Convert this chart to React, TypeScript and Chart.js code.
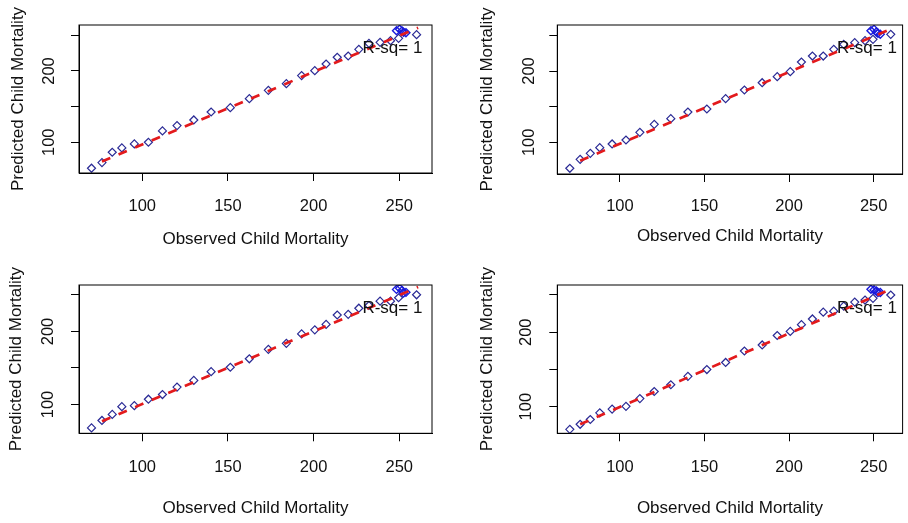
import React, { useEffect, useRef } from 'react';
import { Chart, registerables } from 'chart.js';

Chart.register(...registerables);
Chart.defaults.font.family = '"Liberation Sans", Arial, Helvetica, sans-serif';
Chart.defaults.color = '#000';

// ---------------- data ----------------
const OBSERVED = [70.4, 76.5, 82.5, 88.1, 95.4, 103.6, 111.8, 120.3, 130.1, 140.2, 151.4, 162.5, 173.6, 184.1, 193.0, 200.7, 207.3, 213.8, 220.2, 226.4, 232.3, 238.8, 244.9, 249.6, 260.1];
const OBSERVED_CLUSTER = [248.4, 250.2, 251.6, 252.5, 253.9];

const PRED_1 = [63.6, 71.5, 86.0, 92.1, 97.7, 100.0, 115.9, 123.4, 131.3, 142.5, 148.6, 161.2, 172.9, 182.2, 193.5, 200.5, 209.8, 219.2, 221.0, 230.4, 238.8, 240.2, 242.5, 245.8, 250.9];
const PRED_1_CLUSTER = [256.5, 258.4, 256.0, 254.2, 253.7];
const PRED_2 = [63.6, 76.2, 84.6, 92.5, 97.7, 103.3, 114.0, 125.2, 133.2, 142.5, 146.7, 161.2, 173.4, 183.6, 192.1, 199.1, 212.6, 221.0, 221.0, 230.4, 237.4, 239.7, 242.5, 244.4, 251.4];
const PRED_2_CLUSTER = [256.5, 258.4, 254.7, 252.8, 251.4];
const PRED_3 = [67.9, 78.1, 86.4, 97.0, 98.4, 107.2, 113.6, 123.8, 133.0, 145.0, 151.0, 162.6, 175.5, 183.8, 196.7, 202.3, 209.7, 222.6, 223.5, 231.9, 235.6, 241.6, 241.6, 246.2, 250.3];
const PRED_3_CLUSTER = [257.7, 259.1, 256.3, 252.6, 253.6];
const PRED_4 = [69.6, 76.4, 82.8, 91.8, 96.8, 100.5, 110.9, 120.4, 129.5, 140.8, 149.9, 159.4, 174.8, 182.9, 195.6, 201.1, 210.1, 217.8, 226.9, 228.3, 235.1, 240.5, 243.2, 245.5, 250.0];
const PRED_4_CLUSTER = [257.7, 256.8, 255.4, 253.2, 253.2];

const FIT_X = [76.5, 261];
const FIT_1 = [72.9, 260.7];
const FIT_2 = [74.3, 259.8];
const FIT_3 = [77.1, 260.9];
const FIT_4 = [76.4, 258.6];

const X_TICKS = [100, 150, 200, 250];
const Y_TICKS = [100, 150, 200, 250];
const Y_TICK_LABELS = ['100', '', '200', ''];
const X_TITLE = 'Observed Child Mortality';
const Y_TITLE = 'Predicted Child Mortality';
const RSQ_TEXT = 'R-sq= 1';
const RSQ_AT = [246, 232];

const SERIES = [
  { pred: PRED_1, cluster: PRED_1_CLUSTER, fit: FIT_1 },
  { pred: PRED_2, cluster: PRED_2_CLUSTER, fit: FIT_2 },
  { pred: PRED_3, cluster: PRED_3_CLUSTER, fit: FIT_3 },
  { pred: PRED_4, cluster: PRED_4_CLUSTER, fit: FIT_4 },
];

// ---------------- layout ----------------
const LAYOUTS = [
  { left: 0, top: 0, w: 454, h: 260, l: 79, r: 432, t: 25, b: 173, xr: [63.1, 269.1], yr: [56.9, 264.5], xTitleY: 239.3, yTitleX: 18, xLabY: 206.7, yLabX: 49 },
  { left: 454, top: 0, w: 454, h: 260, l: 103.3, r: 453, t: 25, b: 174, xr: [63.0, 267.1], yr: [55.6, 264.5], xTitleY: 236, yTitleX: 33.3, xLabY: 206, yLabX: 75 },
  { left: 0, top: 260, w: 454, h: 263, l: 79, r: 432, t: 25, b: 173.3, xr: [63.1, 269.1], yr: [60.5, 263.7], xTitleY: 248.3, yTitleX: 16.7, xLabY: 207.3, yLabX: 48.3 },
  { left: 454, top: 260, w: 454, h: 263, l: 103.3, r: 453, t: 25, b: 173.3, xr: [63.0, 267.1], yr: [64.3, 263.4], xTitleY: 248.3, yTitleX: 33.3, xLabY: 207.3, yLabX: 72.7 },
];

const TICK_SIZE = 16.5;
const TITLE_SIZE = 17;
const TICK_LEN = 8;
const FONT = '"Liberation Sans", Arial, Helvetica, sans-serif';

const boxPlugin = {
  id: 'boxAndText',
  afterDatasetsDraw(chart: any) {
    const { ctx, chartArea: a, scales } = chart;
    ctx.save();
    ctx.strokeStyle = '#000';
    ctx.lineWidth = 1;
    ctx.strokeRect(a.left, a.top, a.right - a.left, a.bottom - a.top);
    ctx.fillStyle = '#111';
    ctx.font = `${TITLE_SIZE}px ${FONT}`;
    ctx.textAlign = 'center';
    ctx.textBaseline = 'middle';
    ctx.fillText(RSQ_TEXT, scales.x.getPixelForValue(RSQ_AT[0]), scales.y.getPixelForValue(RSQ_AT[1]));
    ctx.restore();
  },
};

function Panel({ idx }: { idx: number }) {
  const ref = useRef<HTMLCanvasElement>(null);
  const L = LAYOUTS[idx];
  useEffect(() => {
    const D = SERIES[idx];
    const canvas = ref.current!;
    const ctx = canvas.getContext('2d')!;
    ctx.font = `${TICK_SIZE}px ${FONT}`;
    const widest = Math.max(...Y_TICK_LABELS.map((s) => ctx.measureText(s).width));
    const yPad = L.l - TICK_LEN - widest / 2 - L.yLabX;
    const xPad = L.xLabY - L.b - TICK_LEN - TICK_SIZE / 2;

    const chart = new Chart(canvas, {
      type: 'scatter',
      data: {
        datasets: [
          {
            type: 'line',
            data: FIT_X.map((x, i) => ({ x, y: D.fit[i] })),
            borderColor: '#e31a1c',
            borderWidth: 2.7,
            borderDash: [9, 9],
            pointRadius: 0,
            fill: false,
            showLine: true,
          } as any,
          {
            data: OBSERVED_CLUSTER.map((x, i) => ({ x, y: D.cluster[i] })),
            pointStyle: 'rectRot',
            pointRadius: 4,
            pointBorderColor: '#1b1bdc',
            pointBackgroundColor: 'rgba(0,0,0,0)',
            pointBorderWidth: 1.4,
          },
          {
            data: OBSERVED.map((x, i) => ({ x, y: D.pred[i] })),
            pointStyle: 'rectRot',
            pointRadius: 4,
            pointBorderColor: '#2a2a95',
            pointBackgroundColor: 'rgba(0,0,0,0)',
            pointBorderWidth: 1.2,
          },
        ],
      },
      options: {
        animation: false,
        responsive: false,
        devicePixelRatio: 1,
        layout: { padding: { left: 0, top: L.t, right: L.w - L.r, bottom: 0 } },
        plugins: { legend: { display: false }, tooltip: { enabled: false } },
        scales: {
          x: {
            type: 'linear',
            position: 'bottom',
            min: L.xr[0],
            max: L.xr[1],
            afterBuildTicks: (s: any) => {
              s.ticks = X_TICKS.map((v) => ({ value: v }));
            },
            afterFit: (s: any) => {
              s.height = L.h - L.b;
            },
            grid: { drawOnChartArea: false, drawTicks: true, tickLength: TICK_LEN, tickColor: '#000', tickWidth: 1, color: '#000' },
            border: { display: true, color: '#000', width: 1 },
            ticks: {
              autoSkip: false,
              maxRotation: 0,
              minRotation: 0,
              padding: xPad,
              color: '#111',
              font: { size: TICK_SIZE, lineHeight: 1 },
              callback: (v: any) => String(v),
            },
            title: {
              display: true,
              text: X_TITLE,
              color: '#111',
              font: { size: TITLE_SIZE, lineHeight: 1 },
              padding: { top: 0, bottom: L.h - L.xTitleY - TITLE_SIZE / 2 },
            },
          },
          y: {
            type: 'linear',
            position: 'left',
            min: L.yr[0],
            max: L.yr[1],
            afterBuildTicks: (s: any) => {
              s.ticks = Y_TICKS.map((v) => ({ value: v }));
            },
            afterFit: (s: any) => {
              s.width = L.l;
            },
            grid: { drawOnChartArea: false, drawTicks: true, tickLength: TICK_LEN, tickColor: '#000', tickWidth: 1, color: '#000' },
            border: { display: true, color: '#000', width: 1 },
            ticks: {
              autoSkip: false,
              minRotation: 90,
              maxRotation: 90,
              crossAlign: 'center',
              padding: yPad,
              color: '#111',
              font: { size: TICK_SIZE, lineHeight: 1 },
              callback: (v: any) => {
                const i = Y_TICKS.indexOf(Number(v));
                return i >= 0 ? Y_TICK_LABELS[i] : '';
              },
            },
            title: {
              display: true,
              text: Y_TITLE,
              color: '#111',
              font: { size: TITLE_SIZE, lineHeight: 1 },
              padding: { top: L.yTitleX - TITLE_SIZE / 2, bottom: 0 },
            },
          },
        },
      } as any,
      plugins: [boxPlugin],
    });
    return () => chart.destroy();
  }, [idx]);

  return (
    <canvas
      ref={ref}
      width={L.w}
      height={L.h}
      style={{ position: 'absolute', left: L.left, top: L.top, width: L.w, height: L.h }}
    />
  );
}

export default function App() {
  return (
    <div style={{ position: 'fixed', left: 0, top: 0, width: 908, height: 523, background: '#fff', overflow: 'hidden' }}>
      {LAYOUTS.map((_, i) => (
        <Panel key={i} idx={i} />
      ))}
    </div>
  );
}
